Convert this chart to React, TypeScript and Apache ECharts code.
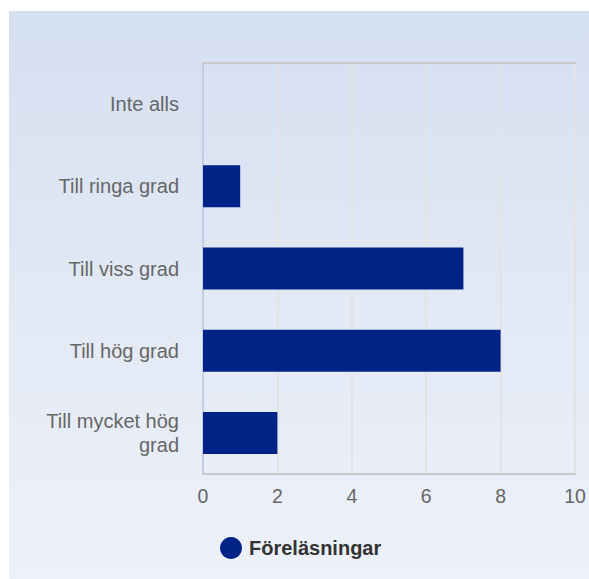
import React, { useEffect, useRef } from "react";
import * as echarts from "echarts";

const categories = ["Inte alls", "Till ringa grad", "Till viss grad", "Till hög grad", "Till mycket hög grad"];
const values = [0, 1, 7, 8, 2];
const seriesName = "Föreläsningar";
const xMin = 0;
const xMax = 10;
const xInterval = 2;

function wrapLabel(s: string, maxChars: number): string {
  const words = s.split(" ");
  const lines: string[] = [];
  let cur = "";
  for (const w of words) {
    const next = cur ? cur + " " + w : w;
    if (next.length > maxChars && cur) {
      lines.push(cur);
      cur = w;
    } else {
      cur = next;
    }
  }
  if (cur) lines.push(cur);
  return lines.join("\n");
}

export default function App() {
  const ref = useRef<HTMLDivElement>(null);
  useEffect(() => {
    if (!ref.current) return;
    const chart = echarts.init(ref.current, null, { renderer: "svg" });
    const font = "'Liberation Sans', Arial, sans-serif";
    chart.setOption({
      animation: false,
      backgroundColor: "transparent",
      textStyle: { fontFamily: font },
      grid: { left: 194, right: 14, top: 52, bottom: 105, containLabel: false },
      legend: {
        data: [seriesName],
        left: 206,
        top: 521,
        icon: "circle",
        itemWidth: 22,
        itemHeight: 22,
        textStyle: { color: "#333", fontSize: 20, fontWeight: "bold", fontFamily: font, padding: [0, 0, 0, 2] },
      },
      xAxis: [
        {
          type: "value",
          position: "bottom",
          min: xMin,
          max: xMax,
          interval: xInterval,
          axisLine: { show: true, lineStyle: { color: "#c8c8c8", width: 2 } },
          axisTick: { show: false },
          axisLabel: { color: "#666", fontSize: 19.5, margin: 12, fontFamily: font },
          splitLine: { show: true, lineStyle: { color: "#e3e3e3", width: 2 } },
        },
        {
          type: "value",
          position: "top",
          min: xMin,
          max: xMax,
          interval: xInterval,
          axisLine: { show: true, lineStyle: { color: "#c8c8c8", width: 2 } },
          axisTick: { show: false },
          axisLabel: { show: false },
          splitLine: { show: false },
        },
      ],
      yAxis: {
        type: "category",
        data: categories,
        inverse: true,
        offset: 4,
        axisLine: { show: true, lineStyle: { color: "#c5cde6", width: 2 } },
        axisTick: { show: false },
        axisLabel: {
          color: "#666",
          fontSize: 20,
          margin: 20,
          lineHeight: 24,
          align: "right",
          padding: [6, 0, 0, 0],
          fontFamily: font,
          formatter: (v: string) => wrapLabel(v, 16),
        },
        splitLine: { show: false },
      },
      series: [
        {
          name: seriesName,
          type: "bar",
          xAxisIndex: 0,
          data: values,
          barWidth: 42,
          itemStyle: { color: "#002387" },
        },
      ],
    });
    return () => chart.dispose();
  }, []);
  return (
    <div
      style={{
        position: "absolute",
        left: 9,
        top: 11,
        width: 580,
        height: 568,
        background: "linear-gradient(to bottom, #d4dff0 0%, #e2e9f5 50%, #edf1f9 100%)",
      }}
    >
      <div ref={ref} style={{ width: 580, height: 568 }} />
    </div>
  );
}
